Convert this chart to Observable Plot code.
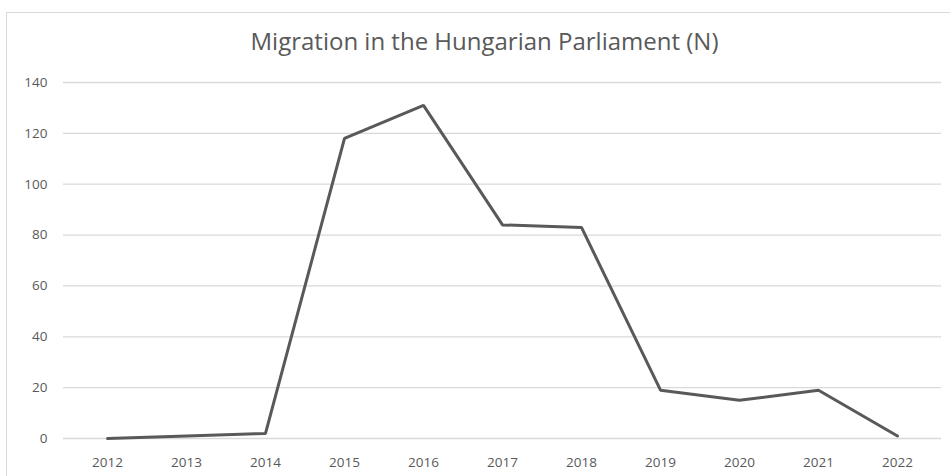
<!DOCTYPE html>
<html>
<head>
<meta charset="utf-8">
<script src="https://cdn.jsdelivr.net/npm/d3@7"></script>
<script src="https://cdn.jsdelivr.net/npm/@observablehq/plot@0.6"></script>
<style>
  html, body { margin: 0; padding: 0; background: #fff; }
  #wrap { position: relative; width: 950px; height: 476px; overflow: hidden; }
  #border { position: absolute; left: 6px; top: 12px; width: 960px; height: 480px; border: 1.5px solid #d9d9d9; box-sizing: border-box; pointer-events: none; }
  #chart { position: absolute; left: 0; top: 0; }
</style>
</head>
<body>
<div id="wrap">
  <div id="border"></div>
  <div id="chart"></div>
</div>
<script>
const title = "Migration in the Hungarian Parliament (N)";
const years = ["2012","2013","2014","2015","2016","2017","2018","2019","2020","2021","2022"];
const counts = [0, 1, 2, 118, 131, 84, 83, 19, 15, 19, 1];
const yTicks = [0, 20, 40, 60, 80, 100, 120, 140];

const data = years.map((y, i) => ({year: y, n: counts[i]}));

const plot = Plot.plot({
  width: 950,
  height: 476,
  marginTop: 82,
  marginBottom: 38,
  marginLeft: 63,
  marginRight: 9,
  style: {fontFamily: "'Open Sans', sans-serif", fontSize: "13.5px", color: "#595959", background: "transparent"},
  x: {type: "point", domain: years, padding: 0.5, label: null},
  y: {domain: [0, 140], label: null},
  marks: [
    Plot.ruleY(yTicks, {stroke: "#d9d9d9", strokeWidth: 1.3}),
    Plot.axisY(yTicks, {tickSize: 0, tickPadding: 16, label: null, fill: "#595959", fontSize: 13.5}),
    Plot.axisX({tickSize: 0, tickPadding: 19, label: null, fill: "#595959", fontSize: 13.5}),
    Plot.line(data, {x: "year", y: "n", stroke: "#595959", strokeWidth: 3, strokeLinejoin: "miter"}),
    Plot.text([title], {frameAnchor: "top", dy: -50, dx: -18, text: d => d, fontSize: 24, fill: "#595959", fontFamily: "'Open Sans', sans-serif"})
  ]
});
document.getElementById("chart").appendChild(plot);
</script>
</body>
</html>
